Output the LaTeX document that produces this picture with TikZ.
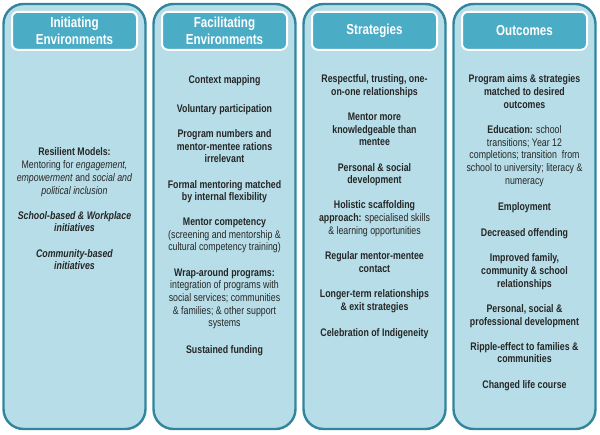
\documentclass[tikz,border=0pt]{standalone}
\usepackage{fontspec}
\setmainfont{Liberation Sans}[FakeStretch=0.8]
\usepackage{xcolor}
\usepackage{tikz}
\usetikzlibrary{positioning, shadows}
\definecolor{boxfill}{HTML}{B7DEE8}
\definecolor{boxline}{HTML}{31859C}
\definecolor{headfill}{HTML}{4BACC6}
\definecolor{txt}{HTML}{262626}
\tikzset{
     colbox/.style={rectangle, draw=boxline, line width=2.4pt, fill=boxfill,
                    rounded corners=20pt, minimum width=142pt, minimum height=425pt},
     head/.style={rectangle, draw=white, line width=2pt, fill=headfill, rounded corners=6pt,
                  minimum width=125pt, minimum height=38pt, text=white, align=center,
                  font=\fontsize{14.5}{17}\selectfont\bfseries,
                  drop shadow={opacity=0.25, shadow xshift=1pt, shadow yshift=-1pt}}
     }

\begin{document}
\begin{tikzpicture}[node distance=13pt]
\tikzstyle{item} = [align=center, inner sep=0pt, text=txt,
font=\fontsize{11}{12.7}\selectfont, execute at begin node=\strut, execute at end node=\strut]

\useasboundingbox (0,0) rectangle (600pt,-435pt);

\node [colbox] (c1) at (74.5pt,-216.5pt) {};
\node [colbox, right=5.6pt of c1] (c2) {};
\node [colbox, right=5.6pt of c2] (c3) {};
\node [colbox, right=5.6pt of c3] (c4) {};

\node [head, below=8pt of c1.north] (h1) {Initiating\\Environments};
\node [head, below=8pt of c2.north] (h2) {Facilitating\\Environments};
\node [head, below=8pt of c3.north] (h3) {Strategies};
\node [head, below=8pt of c4.north] (h4) {Outcomes};

% initiating environments
\node [item, below=97pt of h1] (i1) {\textbf{Resilient Models:}\\Mentoring for \textit{engagement,}\\\textit{empowerment} and \textit{social and}\\\textit{political inclusion}};
\node [item, below=of i1] (i2) {\textbf{\textit{School-based \& Workplace}}\\\textbf{\textit{initiatives}}};
\node [item, below=of i2] (i3) {\textbf{\textit{Community-based}}\\\textbf{\textit{initiatives}}};

% facilitating environments
\node [item, below=24pt of h2] (f1) {\textbf{Context mapping}};
\node [item, below=15.3pt of f1] (f2) {\textbf{Voluntary participation}};
\node [item, below=of f2] (f3) {\textbf{Program numbers and}\\\textbf{mentor-mentee rations}\\\textbf{irrelevant}};
\node [item, below=of f3] (f4) {\textbf{Formal mentoring matched}\\\textbf{by internal flexibility}};
\node [item, below=of f4] (f5) {\textbf{Mentor competency}\\(screening and mentorship \&\\cultural competency training)};
\node [item, below=of f5] (f6) {\textbf{Wrap-around programs:}\\integration of programs with\\social services; communities\\\& families; \& other support\\systems};
\node [item, below=of f6] (f7) {\textbf{Sustained funding}};

% strategies
\node [item, below=24pt of h3] (s1) {\textbf{Respectful, trusting, one-}\\\textbf{on-one relationships}};
\node [item, below=of s1] (s2) {\textbf{Mentor more}\\\textbf{knowledgeable than}\\\textbf{mentee}};
\node [item, below=of s2] (s3) {\textbf{Personal \& social}\\\textbf{development}};
\node [item, below=of s3] (s4) {\textbf{Holistic scaffolding}\\\textbf{approach:} specialised skills\\\& learning opportunities};
\node [item, below=of s4] (s5) {\textbf{Regular mentor-mentee}\\\textbf{contact}};
\node [item, below=of s5] (s6) {\textbf{Longer-term relationships}\\\textbf{\& exit strategies}};
\node [item, below=of s6] (s7) {\textbf{Celebration of Indigeneity}};

% outcomes
\node [item, below=24pt of h4] (o1) {\textbf{Program aims \& strategies}\\\textbf{matched to desired}\\\textbf{outcomes}};
\node [item, below=of o1] (o2) {\textbf{Education:} school\\transitions; Year 12\\completions; transition\ \ from\\school to university; literacy \&\\numeracy};
\node [item, below=of o2] (o3) {\textbf{Employment}};
\node [item, below=of o3] (o4) {\textbf{Decreased offending}};
\node [item, below=of o4] (o5) {\textbf{Improved family,}\\\textbf{community \& school}\\\textbf{relationships}};
\node [item, below=of o5] (o6) {\textbf{Personal, social \&}\\\textbf{professional development}};
\node [item, below=of o6] (o7) {\textbf{Ripple-effect to families \&}\\\textbf{communities}};
\node [item, below=of o7] (o8) {\textbf{Changed life course}};
\end{tikzpicture}
\end{document}
